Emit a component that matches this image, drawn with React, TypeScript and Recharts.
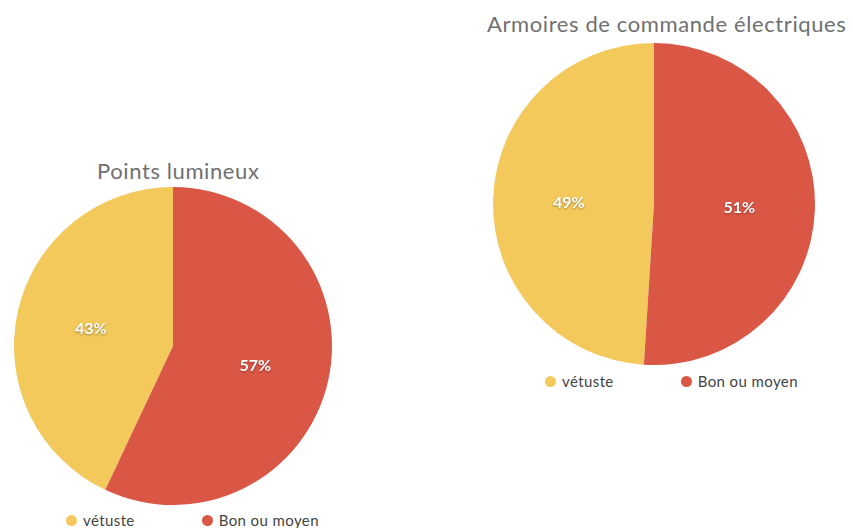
import { Cell, Pie, PieChart } from "recharts";

const categories = ["vétuste", "Bon ou moyen"];
const colors = ["#F3C95C", "#DA5746"];

const pointsTitle = "Points lumineux";
const pointsValues = [43, 57];

const armoiresTitle = "Armoires de commande électriques";
const armoiresValues = [49, 51];

const RAD = Math.PI / 180;

const toRows = (values: number[]) =>
  categories.map((name, i) => ({ name, value: values[i] }));

function renderLabel(props: any) {
  const { cx, cy, midAngle, outerRadius, value } = props;
  const r = outerRadius * 0.53;
  const x = cx + r * Math.cos(-midAngle * RAD);
  const y = cy + r * Math.sin(-midAngle * RAD);
  return (
    <text
      x={x}
      y={y}
      fill="#fff"
      textAnchor="middle"
      dominantBaseline="central"
      fontSize={16}
      fontWeight={700}
      fontFamily="Lato, sans-serif"
      style={{ filter: "drop-shadow(0px 1px 1px rgba(0,0,0,0.35))" }}
    >
      {`${value}%`}
    </text>
  );
}

function Legend({ left, top, gap }: { left: number; top: number; gap: number }) {
  return (
    <div
      style={{
        position: "absolute",
        left,
        top,
        display: "flex",
        gap,
        fontFamily: "Lato, sans-serif",
        fontSize: 15,
        letterSpacing: 0.4,
        color: "#444",
      }}
    >
      {categories.map((c, i) => (
        <div key={c} style={{ display: "flex", alignItems: "center", gap: 6 }}>
          <span
            style={{
              width: 11,
              height: 11,
              borderRadius: 6,
              background: colors[i],
              display: "inline-block",
            }}
          />
          <span>{c}</span>
        </div>
      ))}
    </div>
  );
}

const titleStyle = {
  position: "absolute" as const,
  fontFamily: "Lato, sans-serif",
  fontWeight: 400,
  fontSize: 22,
  color: "#707070",
  whiteSpace: "nowrap" as const,
  letterSpacing: 0.6,
};

export default function App() {
  return (
    <div
      style={{
        position: "absolute",
        left: 0,
        top: 0,
        width: 853,
        height: 528,
        background: "#fff",
        overflow: "hidden",
      }}
    >
      <PieChart width={853} height={528} margin={{ top: 0, right: 0, bottom: 0, left: 0 }}>
        <Pie
          data={toRows(pointsValues)}
          dataKey="value"
          nameKey="name"
          cx={173}
          cy={346}
          outerRadius={159}
          startAngle={90}
          endAngle={450}
          stroke="none"
          label={renderLabel}
          labelLine={false}
          isAnimationActive={false}
        >
          {categories.map((c, i) => (
            <Cell key={c} fill={colors[i]} />
          ))}
        </Pie>
        <Pie
          data={toRows(armoiresValues)}
          dataKey="value"
          nameKey="name"
          cx={654}
          cy={204}
          outerRadius={161}
          startAngle={90}
          endAngle={450}
          stroke="none"
          label={renderLabel}
          labelLine={false}
          isAnimationActive={false}
        >
          {categories.map((c, i) => (
            <Cell key={c} fill={colors[i]} />
          ))}
        </Pie>
      </PieChart>
      <div style={{ ...titleStyle, left: 97, top: 157 }}>{pointsTitle}</div>
      <div style={{ ...titleStyle, left: 487, top: 10 }}>{armoiresTitle}</div>
      <Legend left={66} top={511} gap={67} />
      <Legend left={545} top={372} gap={67} />
    </div>
  );
}
